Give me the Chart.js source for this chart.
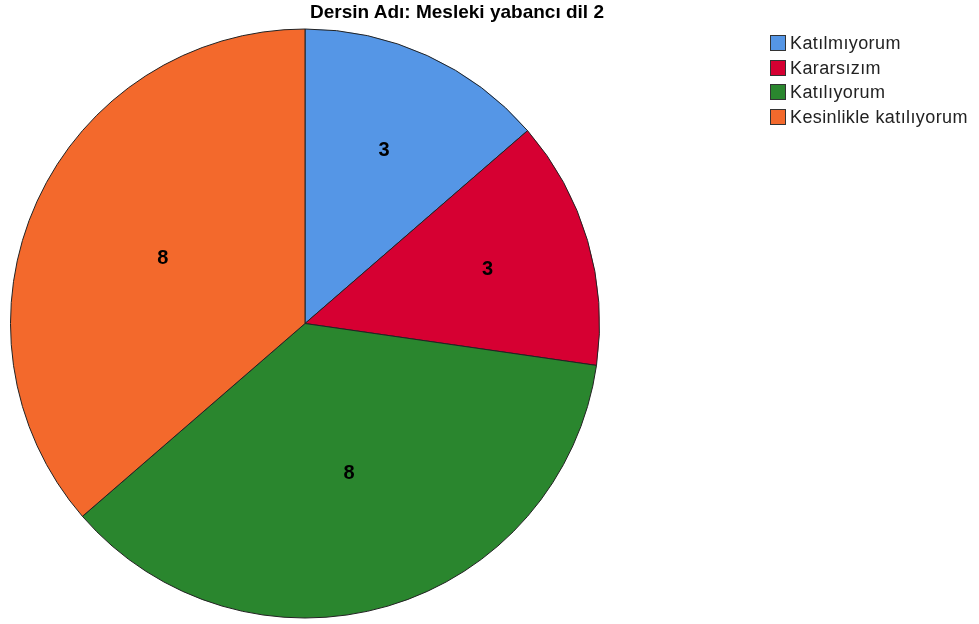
<!DOCTYPE html>
<html>
<head>
<meta charset="utf-8">
<script src="https://cdn.jsdelivr.net/npm/chart.js@4/dist/chart.umd.min.js"></script>
<style>
	body { margin: 0; background: #fff; font-family: "Liberation Sans", Arial, sans-serif; }
	#wrap { position: relative; width: 979px; height: 624px; }
	#title { position: absolute; left: 0; width: 914px; top: 1px; text-align: center; font-weight: bold; font-size: 19px; color: #000; }
	#legend { position: absolute; left: 770px; top: 34px; font-size: 18px; letter-spacing: 0.4px; color: #222; }
	#legend div { height: 24.5px; line-height: 18px; white-space: nowrap; }
	#legend span.box { display: inline-block; width: 16px; height: 16px; box-sizing: border-box; border: 1px solid #333; vertical-align: -2px; margin-right: 4px; }
</style>
</head>
<body>
<div id="wrap">
	<canvas id="piechart"></canvas>
	<div id="title">Dersin Adı: Mesleki yabancı dil 2</div>
	<div id="legend"></div>
</div>
<script>
var labels = ['Katılmıyorum', 'Kararsızım', 'Katılıyorum', 'Kesinlikle katılıyorum'];
var counts = [3, 3, 8, 8];
var colors = ['#5596e6', '#d60032', '#2a862e', '#f3692c'];

var legend = document.getElementById('legend');
for (var i = 0; i < labels.length; i++) {
	var row = document.createElement('div');
	row.innerHTML = '<span class="box" style="background:' + colors[i] + '"></span>' + labels[i];
	legend.appendChild(row);
}

// value labels at the centroid of each slice
var sliceLabels = {
	id: 'sliceLabels',
	afterDatasetsDraw: function(chart) {
		var ctx = chart.ctx;
		var meta = chart.getDatasetMeta(0);
		ctx.save();
		ctx.font = 'bold 20px "Liberation Sans", Arial, sans-serif';
		ctx.fillStyle = '#000';
		ctx.textAlign = 'center';
		ctx.textBaseline = 'middle';
		meta.data.forEach(function(arc, i) {
			var mid = (arc.startAngle + arc.endAngle) / 2;
			var half = (arc.endAngle - arc.startAngle) / 2;
			var d = 2 * arc.outerRadius * Math.sin(half) / (3 * half);
			ctx.fillText(counts[i], arc.x + d * Math.cos(mid), arc.y + d * Math.sin(mid));
		});
		ctx.restore();
	}
};

var piechart = new Chart(document.getElementById('piechart'), {
	type: 'pie',
	data: {
		labels: labels,
		datasets: [{
			data: counts,
			backgroundColor: colors,
			borderColor: '#222',
			borderWidth: 1
		}]
	},
	options: {
		responsive: true,
		maintainAspectRatio: false,
		animation: false,
		events: [],
		layout: { padding: { left: 10, right: 379, top: 28, bottom: 5 } },
		plugins: {
			legend: { display: false },
			tooltip: { enabled: false }
		}
	},
	plugins: [sliceLabels]
});
</script>
</body>
</html>
